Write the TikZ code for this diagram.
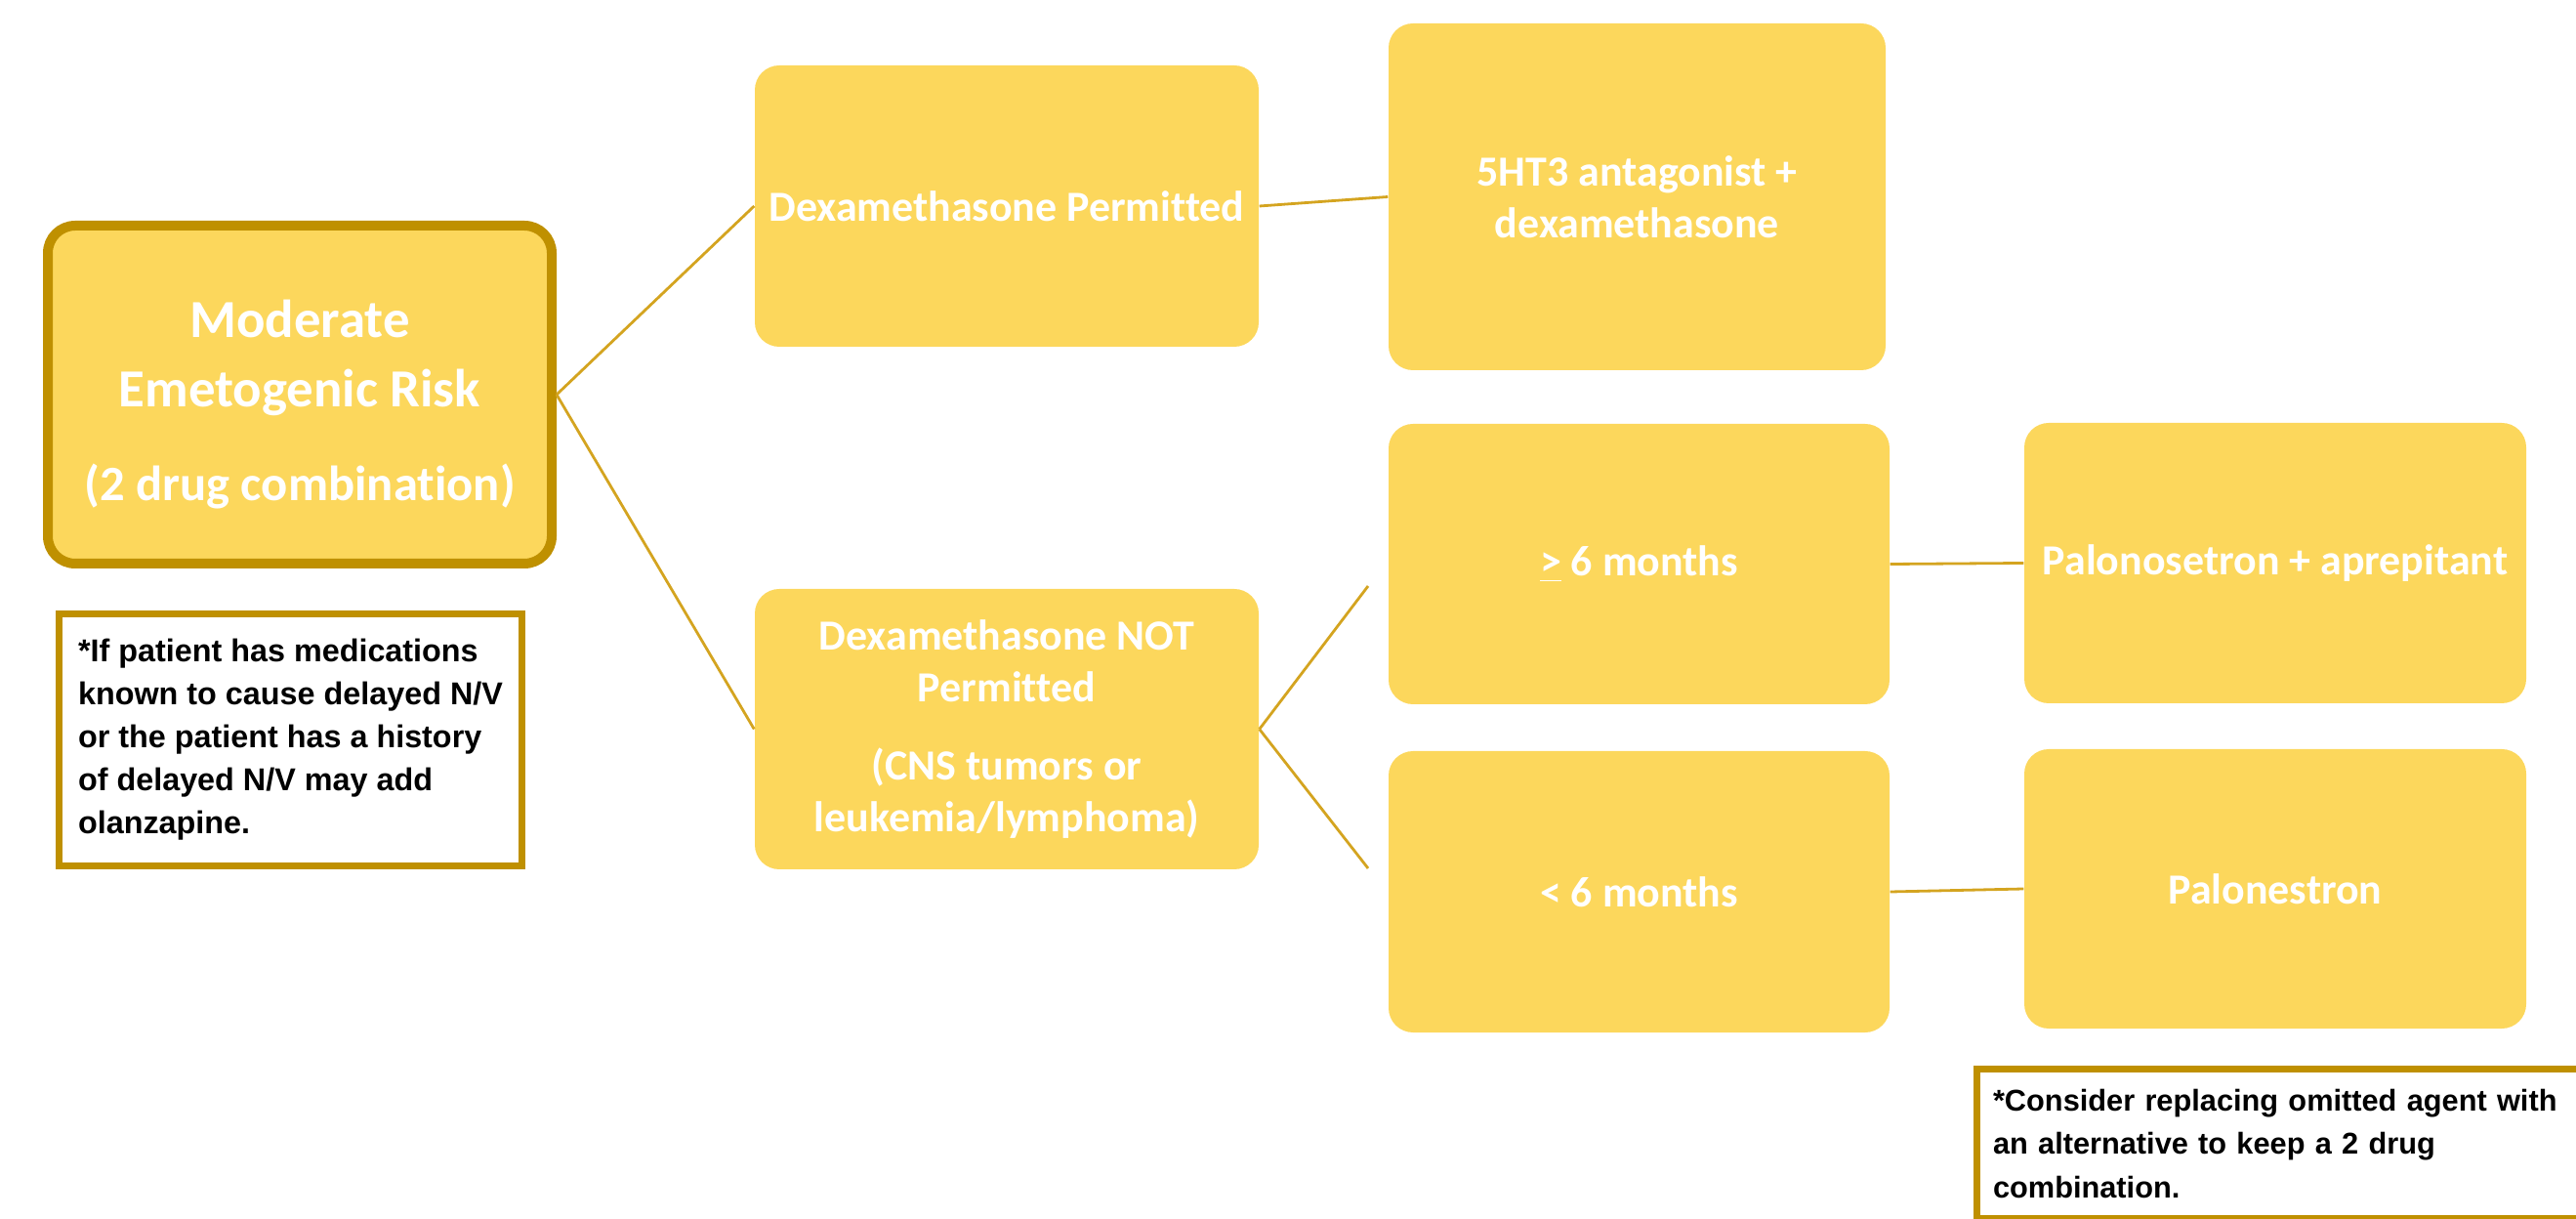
\documentclass[tikz,border=0pt]{standalone}
\usepackage{fontspec}
\setmainfont[Ligatures=NoCommon]{Carlito}
\newfontfamily\notefont{Liberation Sans}
\usepackage{tikz}

\definecolor{boxfill}{RGB}{252,215,92}
\definecolor{darkgold}{RGB}{191,144,0}
\definecolor{linkgold}{RGB}{212,164,32}

\begin{document}
\begin{tikzpicture}[
  box/.style={rectangle, rounded corners=0.25cm, fill=boxfill, text=white, align=center,
    font=\bfseries\fontsize{12.5}{15}\selectfont, minimum width=5.14cm, minimum height=2.87cm},
  note/.style={rectangle, draw=darkgold, line width=0.07cm, fill=white, text=black,
    font=\notefont\bfseries\fontsize{9.2}{12.5}\selectfont},
  link/.style={draw=linkgold, line width=0.028cm}
 ]

 \useasboundingbox (0,0) rectangle (26.38,-12.48);

 %%%  nodes

 % risk level and its footnote
 \node [box, draw=darkgold, line width=0.1cm, rounded corners=0.28cm, minimum width=5.16cm, minimum height=3.46cm,
   font=\bfseries\fontsize{14.4}{20.2}\selectfont] (risk) at (3.07,-4.04)
   {\rule{0pt}{0.58cm}{\fontsize{15.6}{20.2}\selectfont Moderate}\\{\fontsize{15.6}{20.2}\selectfont Emetogenic Risk}\\[7pt](2 drug combination)};
 \node [note, align=left, minimum width=4.74cm, minimum height=2.58cm] (olanz) at (2.975,-7.575)
   {*If patient has medications\\known to cause delayed N/V\\or the patient has a history\\of delayed N/V may add\\olanzapine.};

 % dexamethasone branches
 \node [box, minimum width=5.16cm, minimum height=2.88cm] (dexyes) at (10.31,-2.11) {Dexamethasone Permitted};
 \node [box, minimum width=5.16cm] (dexno) at (10.31,-7.465)
   {Dexamethasone NOT\\Permitted\\[8pt](CNS tumors or\\leukemia/lymphoma)};

 % regimens
 \node [box, minimum width=5.09cm, minimum height=3.55cm] (fivehtthree) at (16.765,-2.015) {5HT3 antagonist +\\dexamethasone};
 \node [box, minimum width=5.13cm] (older) at (16.785,-5.775) {\underline{>} 6 months};
 \node [box, minimum width=5.13cm, minimum height=2.88cm] (younger) at (16.785,-9.13) {< 6 months};
 \node [box] (palapre) at (23.30,-5.765) {Palonosetron + aprepitant};
 \node [box, minimum height=2.86cm] (palo) at (23.30,-9.10) {Palonestron};

 % footnote under the last box
 \node [note, anchor=north west, text width=6.3cm, align=left, inner xsep=0.17cm, inner ysep=0.21cm,
   font=\notefont\bfseries\fontsize{8.75}{12.7}\selectfont] (omitted) at (20.205,-10.905)
   {*Consider replacing omitted agent with\\an alternative to keep a 2 drug\\combination.};

 % loose ends of the age split
 \coordinate (olderend) at (14.01,-6.00);
 \coordinate (youngerend) at (14.01,-8.89);

 %%%  connectors

 \draw [link] (risk.east) to (dexyes.west);
 \draw [link] (risk.east) to (dexno.west);
 \draw [link] (dexyes.east) to (fivehtthree.west);
 \draw [link] (dexno.east) to (olderend);
 \draw [link] (dexno.east) to (youngerend);
 \draw [link] (older.east) to (palapre.west);
 \draw [link] (younger.east) to (palo.west);

\end{tikzpicture}
\end{document}
